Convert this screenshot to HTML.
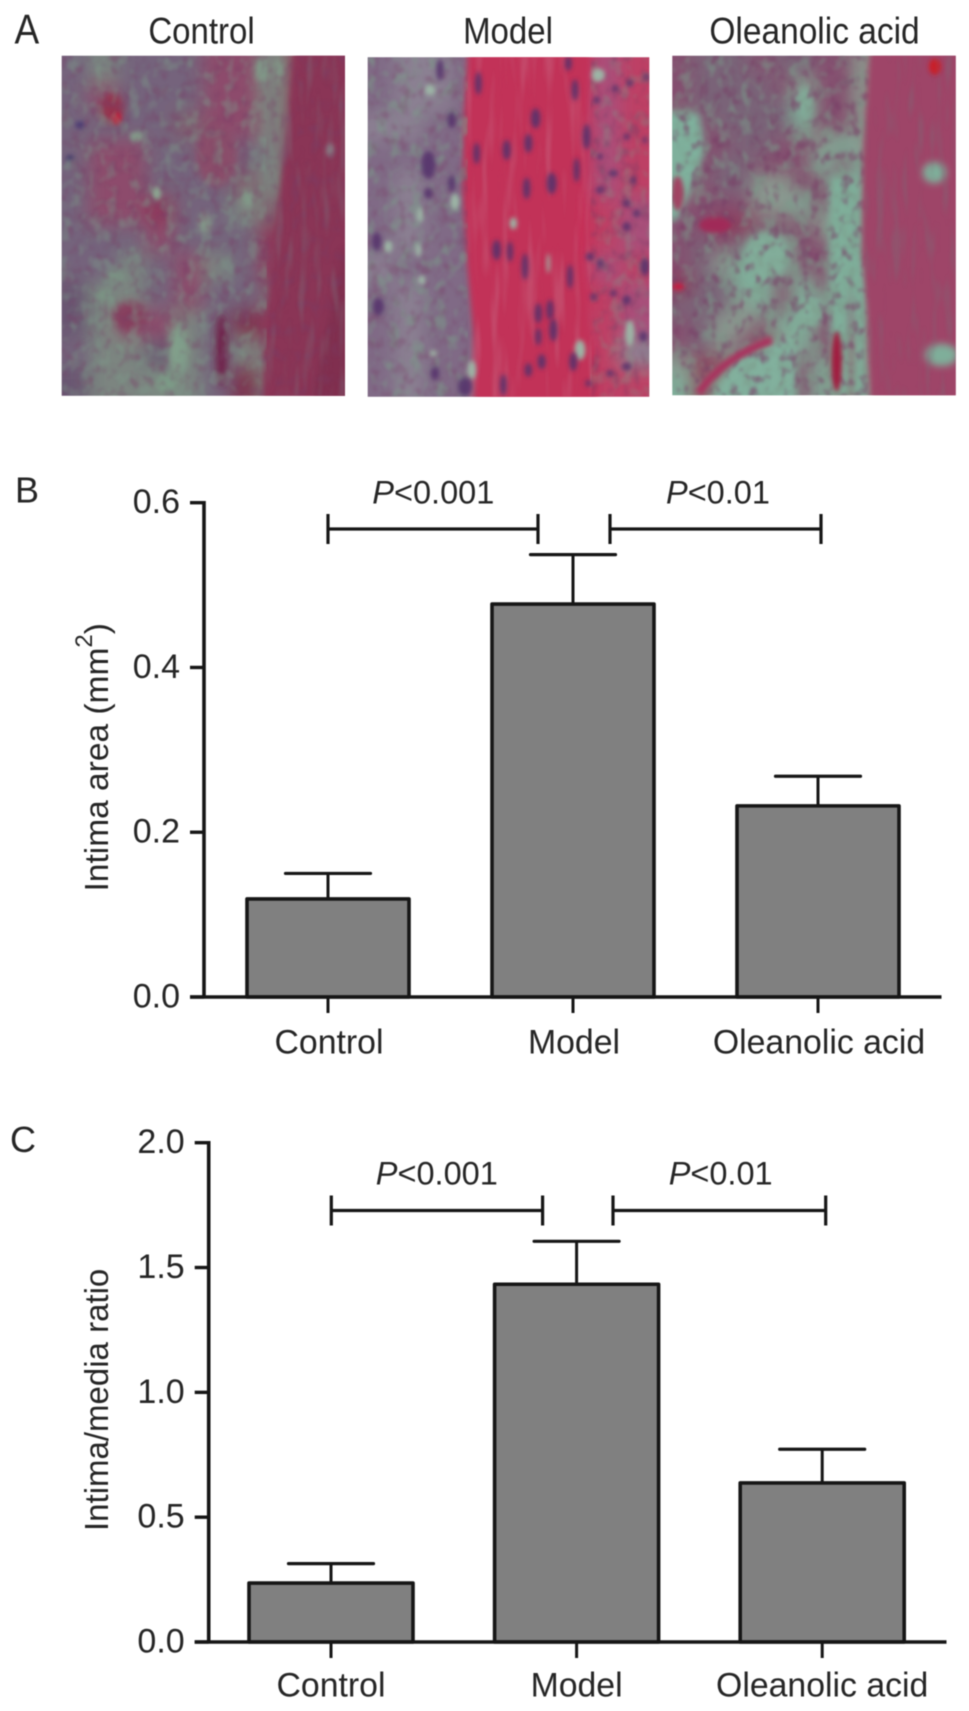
<!DOCTYPE html>
<html lang="en">
<head>
<meta charset="utf-8">
<title>Intima area and intima/media ratio</title>
<style>
html,body{margin:0;padding:0;background:#fff;}
body{width:969px;height:1711px;overflow:hidden;}
#figure{display:block;filter:blur(0.45px);}
text{font-family:"Liberation Sans",sans-serif;fill:#262626;}
</style>
</head>
<body>
<svg id="figure" xmlns="http://www.w3.org/2000/svg" width="969" height="1711" viewBox="0 0 969 1711">
  <defs>
    <filter id="tissue-blur" x="-5%" y="-5%" width="110%" height="110%"><feGaussianBlur stdDeviation="9"/></filter>
    <filter id="edge-blur" x="-10%" y="-10%" width="120%" height="120%"><feGaussianBlur stdDeviation="9"/></filter>
    <filter id="feature-blur" x="-30%" y="-30%" width="160%" height="160%"><feGaussianBlur stdDeviation="11"/></filter>
    <filter id="spot-blur" x="-100%" y="-100%" width="300%" height="300%"><feGaussianBlur stdDeviation="7"/></filter>
    <filter id="speck-light" x="0" y="0" width="100%" height="100%" color-interpolation-filters="sRGB">
      <feTurbulence type="fractalNoise" baseFrequency="0.085 0.07" numOctaves="2" seed="4"/>
      <feColorMatrix values="0 0 0 0 .49  0 0 0 0 .60  0 0 0 0 .54  4 0 0 0 -1.95"/>
      <feGaussianBlur stdDeviation="1"/>
    </filter>
    <filter id="speck-dark" x="0" y="0" width="100%" height="100%" color-interpolation-filters="sRGB">
      <feTurbulence type="fractalNoise" baseFrequency="0.1 0.08" numOctaves="2" seed="11"/>
      <feColorMatrix values="0 0 0 0 .47  0 0 0 0 .24  0 0 0 0 .40  3.4 0 0 0 -1.75"/>
      <feGaussianBlur stdDeviation="1.1"/>
    </filter>
    <filter id="fibre-light" x="0" y="0" width="100%" height="100%" color-interpolation-filters="sRGB">
      <feTurbulence type="fractalNoise" baseFrequency="0.11 0.012" numOctaves="2" seed="7"/>
      <feColorMatrix values="0 0 0 0 .78  0 0 0 0 .42  0 0 0 0 .52  4 0 0 0 -2"/>
      <feGaussianBlur stdDeviation="1"/>
    </filter>
    <filter id="fibre-grey" x="0" y="0" width="100%" height="100%" color-interpolation-filters="sRGB">
      <feTurbulence type="fractalNoise" baseFrequency="0.13 0.018" numOctaves="2" seed="21"/>
      <feColorMatrix values="0 0 0 0 .50  0 0 0 0 .40  0 0 0 0 .46  4 0 0 0 -2"/>
      <feGaussianBlur stdDeviation="1.2"/>
    </filter>
    <clipPath id="clip-control"><rect x="61.7" y="55.7" width="283.3" height="340"/></clipPath>
    <clipPath id="clip-model"><rect x="367.7" y="57.3" width="281.6" height="339.4"/></clipPath>
    <clipPath id="clip-oleanolic"><rect x="672.3" y="55.7" width="283.4" height="339.6"/></clipPath>
  </defs>
  <rect width="969" height="1711" fill="#ffffff"/>

  <text transform="translate(14.5,43.5) scale(1,1.12)" font-size="37">A</text>
  <text transform="translate(201.5,43.5) scale(1,1.12)" font-size="33" text-anchor="middle">Control</text>
  <text transform="translate(508,43.5) scale(1,1.12)" font-size="33" text-anchor="middle">Model</text>
  <text transform="translate(814.5,43.5) scale(1,1.12)" font-size="33.5" text-anchor="middle">Oleanolic acid</text>

  <g clip-path="url(#clip-control)">
    <g id="grid-control" filter="url(#tissue-blur)"></g>
    <g transform="translate(50,50) scale(0.3333)">
      <path filter="url(#edge-blur)" d="M735 -20 L715 200 L690 420 L665 650 L645 850 L635 1080 L930 1080 L930 -20 Z" fill="#8a3657"/>
      <path filter="url(#feature-blur)" d="M880 600 L930 600 L930 1080 L780 1080 Z" fill="#7d2e4e" opacity="0.7"/>
      <g filter="url(#feature-blur)">
        <ellipse cx="185" cy="175" rx="36" ry="46" fill="#94354f"/>
        <ellipse cx="500" cy="320" rx="60" ry="90" fill="#8a4d6a"/>
        <ellipse cx="240" cy="800" rx="50" ry="45" fill="#873f5e"/>
        <ellipse cx="515" cy="900" rx="18" ry="110" fill="#6f2148"/>
        <ellipse cx="465" cy="520" rx="18" ry="32" fill="#879f8b"/>
        <ellipse cx="595" cy="445" rx="20" ry="28" fill="#829d8a"/>
        <ellipse cx="385" cy="900" rx="30" ry="72" fill="#82a08b"/>
        <ellipse cx="350" cy="1000" rx="32" ry="32" fill="#7d9b87"/>
        <ellipse cx="165" cy="735" rx="28" ry="20" fill="#7c9585"/>
        <ellipse cx="195" cy="680" rx="32" ry="20" fill="#7c9585"/>
        <ellipse cx="635" cy="60" rx="20" ry="38" fill="#829d8a"/>
        <ellipse cx="685" cy="60" rx="13" ry="34" fill="#829d8a"/>
      </g>
      <ellipse filter="url(#spot-blur)" cx="200" cy="205" rx="14" ry="18" fill="#c41c3a"/>
      <ellipse filter="url(#spot-blur)" cx="260" cy="260" rx="18" ry="14" fill="#87a08c"/>
      <ellipse filter="url(#spot-blur)" cx="320" cy="430" rx="14" ry="20" fill="#8ca591"/>
      <ellipse filter="url(#spot-blur)" cx="840" cy="300" rx="12" ry="20" fill="#8a7f86"/>
      <ellipse filter="url(#spot-blur)" cx="60" cy="325" rx="12" ry="10" fill="#43386a"/>
      <ellipse filter="url(#spot-blur)" cx="90" cy="225" rx="15" ry="12" fill="#4e3e74"/>
    </g>
    <rect x="61.7" y="55.7" width="205" height="340" filter="url(#speck-light)" opacity="0.42"/>
    <rect x="61.7" y="55.7" width="283.3" height="340" filter="url(#speck-dark)" opacity="0.4"/>
    <rect x="265" y="55.7" width="80" height="340" filter="url(#fibre-grey)" opacity="0.4"/>
  </g>

  <g clip-path="url(#clip-model)">
    <g id="grid-model" filter="url(#tissue-blur)"></g>
    <g transform="translate(360,50) scale(0.3333)">
      <path filter="url(#edge-blur)" d="M325 -20 L312 200 L308 420 L322 650 L340 850 L345 1080 L720 1080 L680 760 L650 560 L670 300 L690 -20 Z" fill="#c23058"/>
    </g>
    <rect x="467" y="57.3" width="125" height="339.4" filter="url(#fibre-light)" opacity="0.4"/>
    <rect x="367.7" y="57.3" width="100" height="339" filter="url(#speck-light)" opacity="0.5"/>
    <rect x="367.7" y="57.3" width="100" height="339" filter="url(#speck-dark)" opacity="0.35"/>
    <rect x="590" y="57.3" width="60" height="339" filter="url(#speck-light)" opacity="0.3"/>
    <rect x="590" y="57.3" width="60" height="339" filter="url(#speck-dark)" opacity="0.4"/>
    <g id="nuclei-model" transform="translate(360,50) scale(0.3333)"></g>
  </g>

  <g clip-path="url(#clip-oleanolic)">
    <g id="grid-oleanolic" filter="url(#tissue-blur)"></g>
    <g transform="translate(665,50) scale(0.3333)">
      <g filter="url(#feature-blur)">
        <path d="M-10 190 L100 190 L120 300 L80 400 L40 510 L-10 510 Z" fill="#7fb09c"/>
        <rect x="495" y="380" width="58" height="660" fill="#7fae9a"/>
        <rect x="570" y="540" width="30" height="500" fill="#7fae9a"/>
        <path d="M140 1060 L210 930 L300 885 L390 860 L390 1060 Z" fill="#82b09d"/>
        <ellipse cx="300" cy="620" rx="62" ry="72" fill="#82ad9a"/>
        <ellipse cx="430" cy="790" rx="42" ry="42" fill="#82ad9a"/>
        <ellipse cx="420" cy="160" rx="20" ry="52" fill="#82ad9a"/>
      </g>
    </g>
    <rect x="672.3" y="55.7" width="198" height="340" filter="url(#speck-light)" opacity="0.5"/>
    <rect x="672.3" y="55.7" width="198" height="340" filter="url(#speck-dark)" opacity="0.6"/>
    <g transform="translate(665,50) scale(0.3333)">
      <path filter="url(#edge-blur)" d="M618 -20 L595 300 L590 600 L608 800 L618 1080 L930 1080 L930 -20 Z" fill="#9e4467"/>
      <g filter="url(#feature-blur)">
        <ellipse cx="808" cy="368" rx="36" ry="32" fill="#7fae9a"/>
        <ellipse cx="830" cy="915" rx="50" ry="34" fill="#7fae9a"/>
      </g>
      <ellipse filter="url(#spot-blur)" cx="150" cy="525" rx="48" ry="24" fill="#a02c58"/>
      <ellipse filter="url(#spot-blur)" cx="38" cy="430" rx="18" ry="52" fill="#a04262"/>
      <ellipse filter="url(#spot-blur)" cx="515" cy="935" rx="16" ry="90" fill="#a01c40"/>
      <path filter="url(#spot-blur)" d="M100 1030 Q170 925 320 870" stroke="#a8365e" stroke-width="24" fill="none"/>
      <ellipse filter="url(#spot-blur)" cx="40" cy="710" rx="18" ry="10" fill="#c81e40"/>
      <ellipse filter="url(#spot-blur)" cx="810" cy="50" rx="18" ry="24" fill="#cc1a28"/>
    </g>
    <rect x="865" y="55.7" width="91" height="340" filter="url(#fibre-grey)" opacity="0.4"/>
  </g>

  <text x="15" y="502.5" font-size="36">B</text>
  <g id="chart-b"></g>
  <text transform="translate(108,891.5) rotate(-90)" font-size="33.5">Intima area (mm<tspan dy="-16" font-size="24">2</tspan><tspan dy="16">)</tspan></text>

  <text x="10" y="1152" font-size="36">C</text>
  <g id="chart-c"></g>
  <text transform="translate(108,1531) rotate(-90)" font-size="33">Intima/media ratio</text>
</svg>

<script>
// Chart data
const categories = ['Control', 'Model', 'Oleanolic acid'];
const areaMeans = [0.119, 0.477, 0.232];
const areaErrors = [0.031, 0.060, 0.036];
const areaTicks = ['0.0', '0.2', '0.4', '0.6'];
const ratioMeans = [0.236, 1.433, 0.637];
const ratioErrors = [0.078, 0.172, 0.135];
const ratioTicks = ['0.0', '0.5', '1.0', '1.5', '2.0'];
const comparisonLabels = ['<0.001', '<0.01'];

// Micrograph colour maps (coarse tissue regions)
const tissuePalette = {
  m:'#74637b', n:'#6a5672', g:'#7b8580', r:'#8d4c6c', c:'#8f3659', d:'#7d2e4e', o:'#80606f',
  v:'#806a86', w:'#8b8092', R:'#c72f56', s:'#bd3f65', p:'#a8507a', q:'#9a5274',
  t:'#7a6378', u:'#85506f', G:'#7fae9a', h:'#8a9a90', k:'#a04468', K:'#8e3a5c'
};
const controlTissue = ['mgmmmrrgcc','mrmmmrrgcc','mmmmorrgcc','mrrmmrmgcc','mrrmmmogcc','mrrcmmgocc','mmmrmmmccc','mmgmrgmccd','nggmrmmocd','ngrrgmdccd','mggngmgocd','nggggmdgcd'];
const modelTissue = ['vwwvRRRRps','vwwvRRRRps','wwvvRRRRps','vvvvRRRRps','vwvvRRRRps','vwvvRRRRsp','vwvvvRRRsp','wvvvvRRRps','vwvvvRRRsp','vwvvvRRssp','vwvvvRRRsw','vwvvRRRRss'];
const oleanolicTissue = ['utttuttuuhkkkk','uttttuhuuhkkkk','utttttGuuhkkkk','GuttttGuuhkkkk','GuuttuuhGhkkkk','GuttuuuGuGkkkk','GutthhuuGGkkkk','uuuuhhGuGGkkkk','uuKKuuuhGGkkkk','ututGGuuGGkkkk','uthGGGuuGGkkkk','KttGGuGuGGkkkk','ttthGuGGuGkkkk','uthhuGGuuhkkkk','uthuKhGuKhkkkk','hKKGGGuGKhkkkk','GKGGGGuGKGkkkk'];

// Dark nuclei and pale vacuoles seen in the Model micrograph
const modelNuclei = [[355,100,9,32],[527,205,13,28],[505,280,11,26],[350,310,9,30],[440,300,11,28],[205,345,20,40],[205,430,12,14],[275,400,10,22],[575,400,14,30],[500,415,10,30],[410,600,12,28],[450,605,8,28],[495,650,9,38],[50,575,13,26],[535,790,10,28],[570,780,10,28],[580,840,11,32],[535,860,8,24],[545,935,11,20],[640,935,11,26],[505,960,10,18],[315,1010,20,26],[430,1005,9,30],[225,970,12,18],[645,120,9,30],[680,260,11,36],[650,360,8,34],[855,650,13,24],[630,680,8,34],[240,60,10,30],[625,40,9,20],[275,210,12,22],[55,770,16,24],[800,460,10,10],[830,490,10,10],[760,370,14,8],[720,420,12,8],[800,530,12,12],[690,620,12,10],[720,640,8,12],[760,730,10,8],[800,750,12,12],[850,860,12,14],[800,950,14,10],[750,970,10,8],[810,100,8,8],[860,80,6,8],[710,150,9,9],[765,115,8,8],[800,260,9,8],[855,270,6,8],[820,390,8,8],[720,320,8,8],[685,1000,8,8],[700,740,8,8]];
const modelVacuoles = [[210,120,16,16],[285,455,14,24],[180,495,10,22],[175,600,9,20],[185,690,12,14],[460,520,11,18],[565,640,5,30],[335,960,13,28],[220,910,12,10],[85,590,13,18],[660,900,16,30],[810,850,14,40],[715,75,20,20]];

const NS = 'http://www.w3.org/2000/svg';

function make(parent, tag, attrs, textValue) {
  const el = document.createElementNS(NS, tag);
  for (const key in attrs) el.setAttribute(key, attrs[key]);
  if (textValue !== undefined) el.textContent = textValue;
  parent.appendChild(el);
  return el;
}

function paintTissue(targetId, rows, x, y, w, h) {
  const target = document.getElementById(targetId);
  const cols = rows[0].length;
  const cellW = w / cols;
  const cellH = h / rows.length;
  const bleed = 30;
  rows.forEach(function (row, r) {
    row.split('').forEach(function (key, c) {
      const left = x + c * cellW - (c === 0 ? bleed : 1);
      const top = y + r * cellH - (r === 0 ? bleed : 1);
      const right = x + (c + 1) * cellW + (c === cols - 1 ? bleed : 1);
      const bottom = y + (r + 1) * cellH + (r === rows.length - 1 ? bleed : 1);
      const cell = make(target, 'rect', {x: left, y: top, width: right - left, height: bottom - top, fill: tissuePalette[key]});
      
      
    });
  });
}

paintTissue('grid-control', controlTissue, 61.7, 55.7, 283.3, 340);
paintTissue('grid-model', modelTissue, 367.7, 57.3, 281.6, 339.4);
paintTissue('grid-oleanolic', oleanolicTissue, 672.3, 55.7, 283.4, 339.6);

const nucleiGroup = document.getElementById('nuclei-model');
modelVacuoles.forEach(function (v) {
  const spot = make(nucleiGroup, 'ellipse', {cx: v[0], cy: v[1], rx: v[2], ry: v[3], fill: '#9db5a6', filter: 'url(#spot-blur)'});
  
  
});
modelNuclei.forEach(function (v) {
  const spot = make(nucleiGroup, 'ellipse', {cx: v[0], cy: v[1], rx: v[2] + 1, ry: v[3] + 2, fill: '#55306c', opacity: 0.88, filter: 'url(#spot-blur)'});
  
  
});

function drawChart(g, opts) {
  const yAxis = function (v) { return opts.y0 - (v / opts.vMax) * (opts.y0 - opts.yTop); };
  const xBand = function (i) { return opts.xStart + i * opts.xStep; };
  const ink = '#161616';

  categories.forEach(function (name, i) {
    const cx = xBand(i);
    const top = yAxis(opts.means[i]);
    const errTop = yAxis(opts.means[i] + opts.errors[i]);

    const stem = make(g, 'line', {x1: cx, x2: cx, y1: top, y2: errTop, stroke: ink, 'stroke-width': 3});
    
    

    const cap = make(g, 'line', {x1: cx - 42.5, x2: cx + 42.5, y1: errTop, y2: errTop, stroke: ink, 'stroke-width': 3.2, 'stroke-linecap': 'round'});
    
    

    const bar = make(g, 'rect', {x: cx - opts.barW / 2, y: top, width: opts.barW, height: opts.y0 - top, fill: '#808080', stroke: ink, 'stroke-width': 3.6, 'stroke-linejoin': 'round'});
    
    

    const tick = make(g, 'line', {x1: cx, x2: cx, y1: opts.y0, y2: opts.y0 + 16, stroke: ink, 'stroke-width': 3});
    
    

    const label = make(g, 'text', {x: cx + opts.labelShift, y: opts.labelY, 'font-size': 33.8, 'text-anchor': 'middle'}, name);
    
    
  });

  opts.ticks.forEach(function (t) {
    const y = yAxis(parseFloat(t));
    const tick = make(g, 'line', {x1: opts.axisX - 14, x2: opts.axisX, y1: y, y2: y, stroke: ink, 'stroke-width': 3.4});
    
    

    const label = make(g, 'text', {x: opts.axisX - 24, y: y + 10.5, 'font-size': 34, 'text-anchor': 'end'}, t);
    
    
  });

  const yLine = make(g, 'line', {x1: opts.axisX, x2: opts.axisX, y1: opts.yTop - 1.7, y2: opts.y0, stroke: ink, 'stroke-width': 3.6});
  
  

  const xLine = make(g, 'line', {x1: opts.axisX - 14, x2: opts.axisEnd, y1: opts.y0, y2: opts.y0, stroke: ink, 'stroke-width': 3.6});
  
  

  comparisonLabels.forEach(function (txt, i) {
    const b = opts.brackets[i];
    const line = make(g, 'line', {x1: b.a, x2: b.b, y1: opts.bracketY, y2: opts.bracketY, stroke: ink, 'stroke-width': 3.2});
    
    

    [b.a, b.b].forEach(function (x) {
      const end = make(g, 'line', {x1: x, x2: x, y1: opts.bracketY - 15, y2: opts.bracketY + 15, stroke: ink, 'stroke-width': 3.2});
      
      
    });

    const label = make(g, 'text', {x: b.textX, y: opts.pBaseline, 'font-size': 32.5});
    
    
    make(label, 'tspan', {'font-style': 'italic'}, 'P');
    make(label, 'tspan', {}, txt);
  });
}

drawChart(document.getElementById('chart-b'), {
  means: areaMeans, errors: areaErrors, ticks: areaTicks, vMax: 0.6,
  y0: 997, yTop: 502.7, axisX: 204, axisEnd: 941.5,
  xStart: 328, xStep: 245, barW: 162, labelShift: 1, labelY: 1053.3,
  bracketY: 529, pBaseline: 503.3,
  brackets: [{a: 328, b: 538, textX: 372.3}, {a: 610, b: 821, textX: 666}]
});

drawChart(document.getElementById('chart-c'), {
  means: ratioMeans, errors: ratioErrors, ticks: ratioTicks, vMax: 2.0,
  y0: 1642, yTop: 1142.7, axisX: 208.7, axisEnd: 946.5,
  xStart: 331, xStep: 245.6, barW: 164, labelShift: 0, labelY: 1696.7,
  bracketY: 1210.5, pBaseline: 1184.3,
  brackets: [{a: 331.3, b: 542.6, textX: 375.8}, {a: 613, b: 825.7, textX: 668.7}]
});
</script>
</body>
</html>
